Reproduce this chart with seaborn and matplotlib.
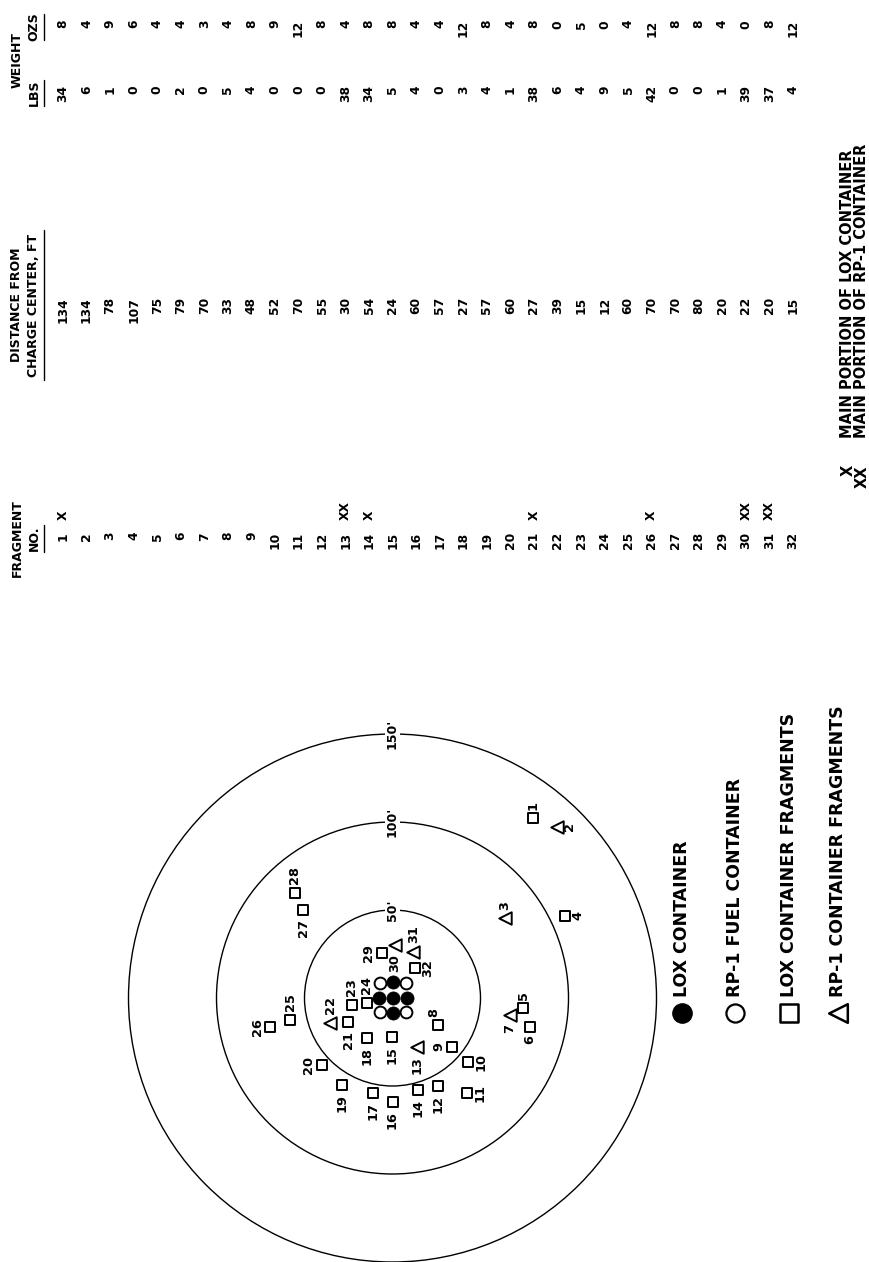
import numpy as np
import pandas as pd
import matplotlib
matplotlib.use("Agg")
import matplotlib.pyplot as plt
from matplotlib.patches import Circle
import seaborn as sns

# ---------------- data ----------------
fragment_no = list(range(1, 33))
main_portion = {1: "X", 13: "XX", 14: "X", 21: "X", 26: "X", 30: "XX", 31: "XX"}
distance_ft = [134, 134, 78, 107, 75, 79, 70, 33, 48, 52, 70, 55, 30, 54, 24, 60,
               57, 27, 57, 60, 27, 39, 15, 12, 60, 70, 70, 80, 20, 22, 20, 15]
weight_lbs = [34, 6, 1, 0, 0, 2, 0, 5, 4, 0, 0, 0, 38, 34, 5, 4,
              0, 3, 4, 1, 38, 6, 4, 9, 5, 42, 0, 0, 1, 39, 37, 4]
weight_ozs = [8, 4, 9, 6, 4, 4, 3, 4, 8, 9, 12, 8, 4, 8, 8, 4,
              4, 12, 8, 4, 8, 0, 5, 0, 4, 12, 8, 8, 4, 0, 8, 12]

# fragment type: "LOX" container fragment (square) or "RP1" container fragment (triangle)
fragment_kind = ["LOX", "RP1", "RP1", "LOX", "LOX", "LOX", "RP1", "LOX", "LOX", "LOX",
                 "LOX", "LOX", "RP1", "LOX", "LOX", "LOX", "LOX", "LOX", "LOX", "LOX",
                 "LOX", "RP1", "LOX", "LOX", "LOX", "LOX", "LOX", "LOX", "LOX", "RP1",
                 "RP1", "LOX"]

# map position of each fragment, feet from charge center (east, north on the sheet)
map_x_ft = [80.0, 93.3, 63.9, 98.0, 74.3, 78.1, 66.8, 26.0, 33.6, 43.1, 42.5, 26.0,
            13.8, 14.7, -0.5, 0.0, -10.9, -14.7, -28.9, -40.2, -25.1, -35.5, -23.2,
            -14.7, -58.2, -69.6, -50.7, -55.4, -6.1, 1.4, 11.8, 12.8]
map_y_ft = [102.1, 97.3, 45.3, 46.6, -5.9, -16.3, -9.7, -15.3, -27.7, -36.2, -54.1,
            -49.8, -27.7, -52.3, -22.0, -58.9, -54.1, -22.9, -49.4, -38.1, -13.5,
            -14.4, -4.0, -3.0, -12.5, -16.3, 50.0, 59.5, 25.4, 30.1, 26.3, 16.9]

# container layout at the charge center, feet
lox_x = [0.0, -7.5, 8.0, 0.0, 0.0]
lox_y = [0.0, 0.0, 0.0, 9.0, -8.5]
rp1_x = [-7.0, -7.0, 7.5, 7.5]
rp1_y = [8.5, -8.0, 8.5, -8.0]

ring_radii = [50, 100, 150]

legend_labels = ["LOX CONTAINER", "RP-1 FUEL CONTAINER",
                 "LOX CONTAINER FRAGMENTS", "RP-1 CONTAINER FRAGMENTS"]
footnotes = [("X", "MAIN PORTION OF LOX CONTAINER"),
             ("XX", "MAIN PORTION OF RP-1 CONTAINER")]

# label placement around each map symbol (u/d/l/r as seen on the sheet)
label_side = ["u", "r", "u", "r", "u", "d", "d", "ul", "l", "r", "r", "d", "d", "d",
              "d", "d", "d", "d", "d", "l", "d", "u", "u", "u", "u", "l", "d", "u",
              "l", "d", "u", "r"]

# ---------------- figure ----------------
sns.set_theme(style="white")
plt.rcParams["font.family"] = ["DejaVu Sans"]
W, H = 869, 1262
fig = plt.figure(figsize=(W / 100, H / 100), dpi=100)
fig.patch.set_facecolor("white")

PX = 1.76              # pixels per foot on the map
CX, CY = 392.5, 998.0  # charge center in sheet pixels
ax = fig.add_axes([0, 0, 1, 1])
ax.set_xlim(-CX / PX, (W - CX) / PX)
ax.set_ylim(-(H - CY) / PX, CY / PX)
ax.axis("off")

BOLD = dict(fontweight="bold", color="black")

for r in ring_radii:
    ax.add_patch(Circle((0, 0), r, fill=False, ec="black", lw=1.0, zorder=1))
    ax.text(0, r, f"{r}'", rotation=90, ha="center", va="center", fontsize=9,
            bbox=dict(fc="white", ec="none", pad=0.6), zorder=2, **BOLD)

frag = pd.DataFrame({"no": fragment_no, "x": map_x_ft, "y": map_y_ft,
                     "kind": fragment_kind, "side": label_side})

sns.scatterplot(data=frag[frag.kind == "LOX"], x="x", y="y", marker="s", s=58,
                facecolor="white", edgecolor="black", linewidth=1.4, ax=ax,
                zorder=4, legend=False)
sns.scatterplot(data=frag[frag.kind == "RP1"], x="x", y="y", marker="<", s=80,
                facecolor="white", edgecolor="black", linewidth=1.4, ax=ax,
                zorder=4, legend=False)
sns.scatterplot(x=lox_x, y=lox_y, marker="o", s=90, color="black",
                edgecolor="black", linewidth=0.5, ax=ax, zorder=4, legend=False)
sns.scatterplot(x=rp1_x, y=rp1_y, marker="o", s=72, facecolor="white",
                edgecolor="black", linewidth=1.4, ax=ax, zorder=4, legend=False)

ax.set_xlabel("")
ax.set_ylabel("")

PT = 0.72  # points per pixel
for _, row in frag.iterrows():
    n = str(row.no)
    v = 13 if len(n) == 1 else 18
    h = 13
    off = {"u": (0, v), "d": (0, -v), "l": (-h, 0), "r": (h, 0), "ul": (-5, 12)}[row.side]
    ax.annotate(n, (row.x, row.y), xytext=(off[0] * PT, off[1] * PT),
                textcoords="offset points", rotation=90, ha="center", va="center",
                fontsize=9.3, zorder=5, **BOLD)

# ---------------- table, legend and notes (sheet pixel coordinates) ----------------
tab = fig.add_axes([0, 0, 1, 1], facecolor="none")
tab.set_xlim(0, W)
tab.set_ylim(H, 0)
tab.axis("off")

def col_x(i):
    return 63 + (i - 1) * 23.55

TFS = 8.8
for i, n in enumerate(fragment_no, start=1):
    x = col_x(i)
    tab.text(x, 532, str(n), rotation=90, ha="center", va="top", fontsize=TFS, **BOLD)
    if n in main_portion:
        tab.text(x, 520, main_portion[n], rotation=90, ha="center", va="bottom",
                 fontsize=TFS, **BOLD)
    tab.text(x, 297, str(distance_ft[i - 1]), rotation=90, ha="center", va="top",
             fontsize=TFS, **BOLD)
    tab.text(x, 85, str(weight_lbs[i - 1]), rotation=90, ha="center", va="top",
             fontsize=TFS, **BOLD)
    tab.text(x, 20, str(weight_ozs[i - 1]), rotation=90, ha="center", va="top",
             fontsize=TFS, **BOLD)

HFS = 9.0
tab.text(17, 538, "FRAGMENT", rotation=90, ha="center", va="center", fontsize=HFS, **BOLD)
tab.text(34, 538, "NO.", rotation=90, ha="center", va="center", fontsize=HFS, **BOLD)
tab.plot([44, 44], [525, 552], color="black", lw=1.0)
tab.text(17, 305, "DISTANCE FROM", rotation=90, ha="center", va="center", fontsize=HFS, **BOLD)
tab.text(34, 305, "CHARGE CENTER, FT", rotation=90, ha="center", va="center", fontsize=HFS, **BOLD)
tab.plot([44, 44], [230, 380], color="black", lw=1.0)
tab.text(17, 60, "WEIGHT", rotation=90, ha="center", va="center", fontsize=HFS, **BOLD)
tab.text(34, 93, "LBS", rotation=90, ha="center", va="center", fontsize=HFS, **BOLD)
tab.text(34, 27, "OZS", rotation=90, ha="center", va="center", fontsize=HFS, **BOLD)
tab.plot([44, 44], [80, 106], color="black", lw=1.0)
tab.plot([44, 44], [14, 40], color="black", lw=1.0)

# legend keys
LFS = 12.5
key_x = [682, 735, 789, 838]
key_y = 1013
sns.scatterplot(x=[key_x[0]], y=[key_y], marker="o", s=190, color="black",
                edgecolor="black", ax=tab, legend=False)
sns.scatterplot(x=[key_x[1]], y=[key_y], marker="o", s=170, facecolor="white",
                edgecolor="black", linewidth=1.6, ax=tab, legend=False)
sns.scatterplot(x=[key_x[2]], y=[key_y], marker="s", s=160, facecolor="white",
                edgecolor="black", linewidth=1.8, ax=tab, legend=False)
sns.scatterplot(x=[key_x[3]], y=[key_y], marker="<", s=180, facecolor="white",
                edgecolor="black", linewidth=1.8, ax=tab, legend=False)
for kx, lab in zip(key_x, legend_labels):
    tab.text(kx, 997, lab, rotation=90, ha="center", va="bottom", fontsize=LFS, **BOLD)
tab.set_xlim(0, W)
tab.set_ylim(H, 0)
tab.set_xlabel("")
tab.set_ylabel("")

# footnotes
for fx, (mark, note) in zip([848, 862], footnotes):
    tab.text(fx, 465, mark, rotation=90, ha="center", va="top", fontsize=10.5, **BOLD)
    tab.text(fx, 438, note, rotation=90, ha="center", va="bottom", fontsize=10.5, **BOLD)

fig.savefig("out.png", dpi=100, facecolor="white")
